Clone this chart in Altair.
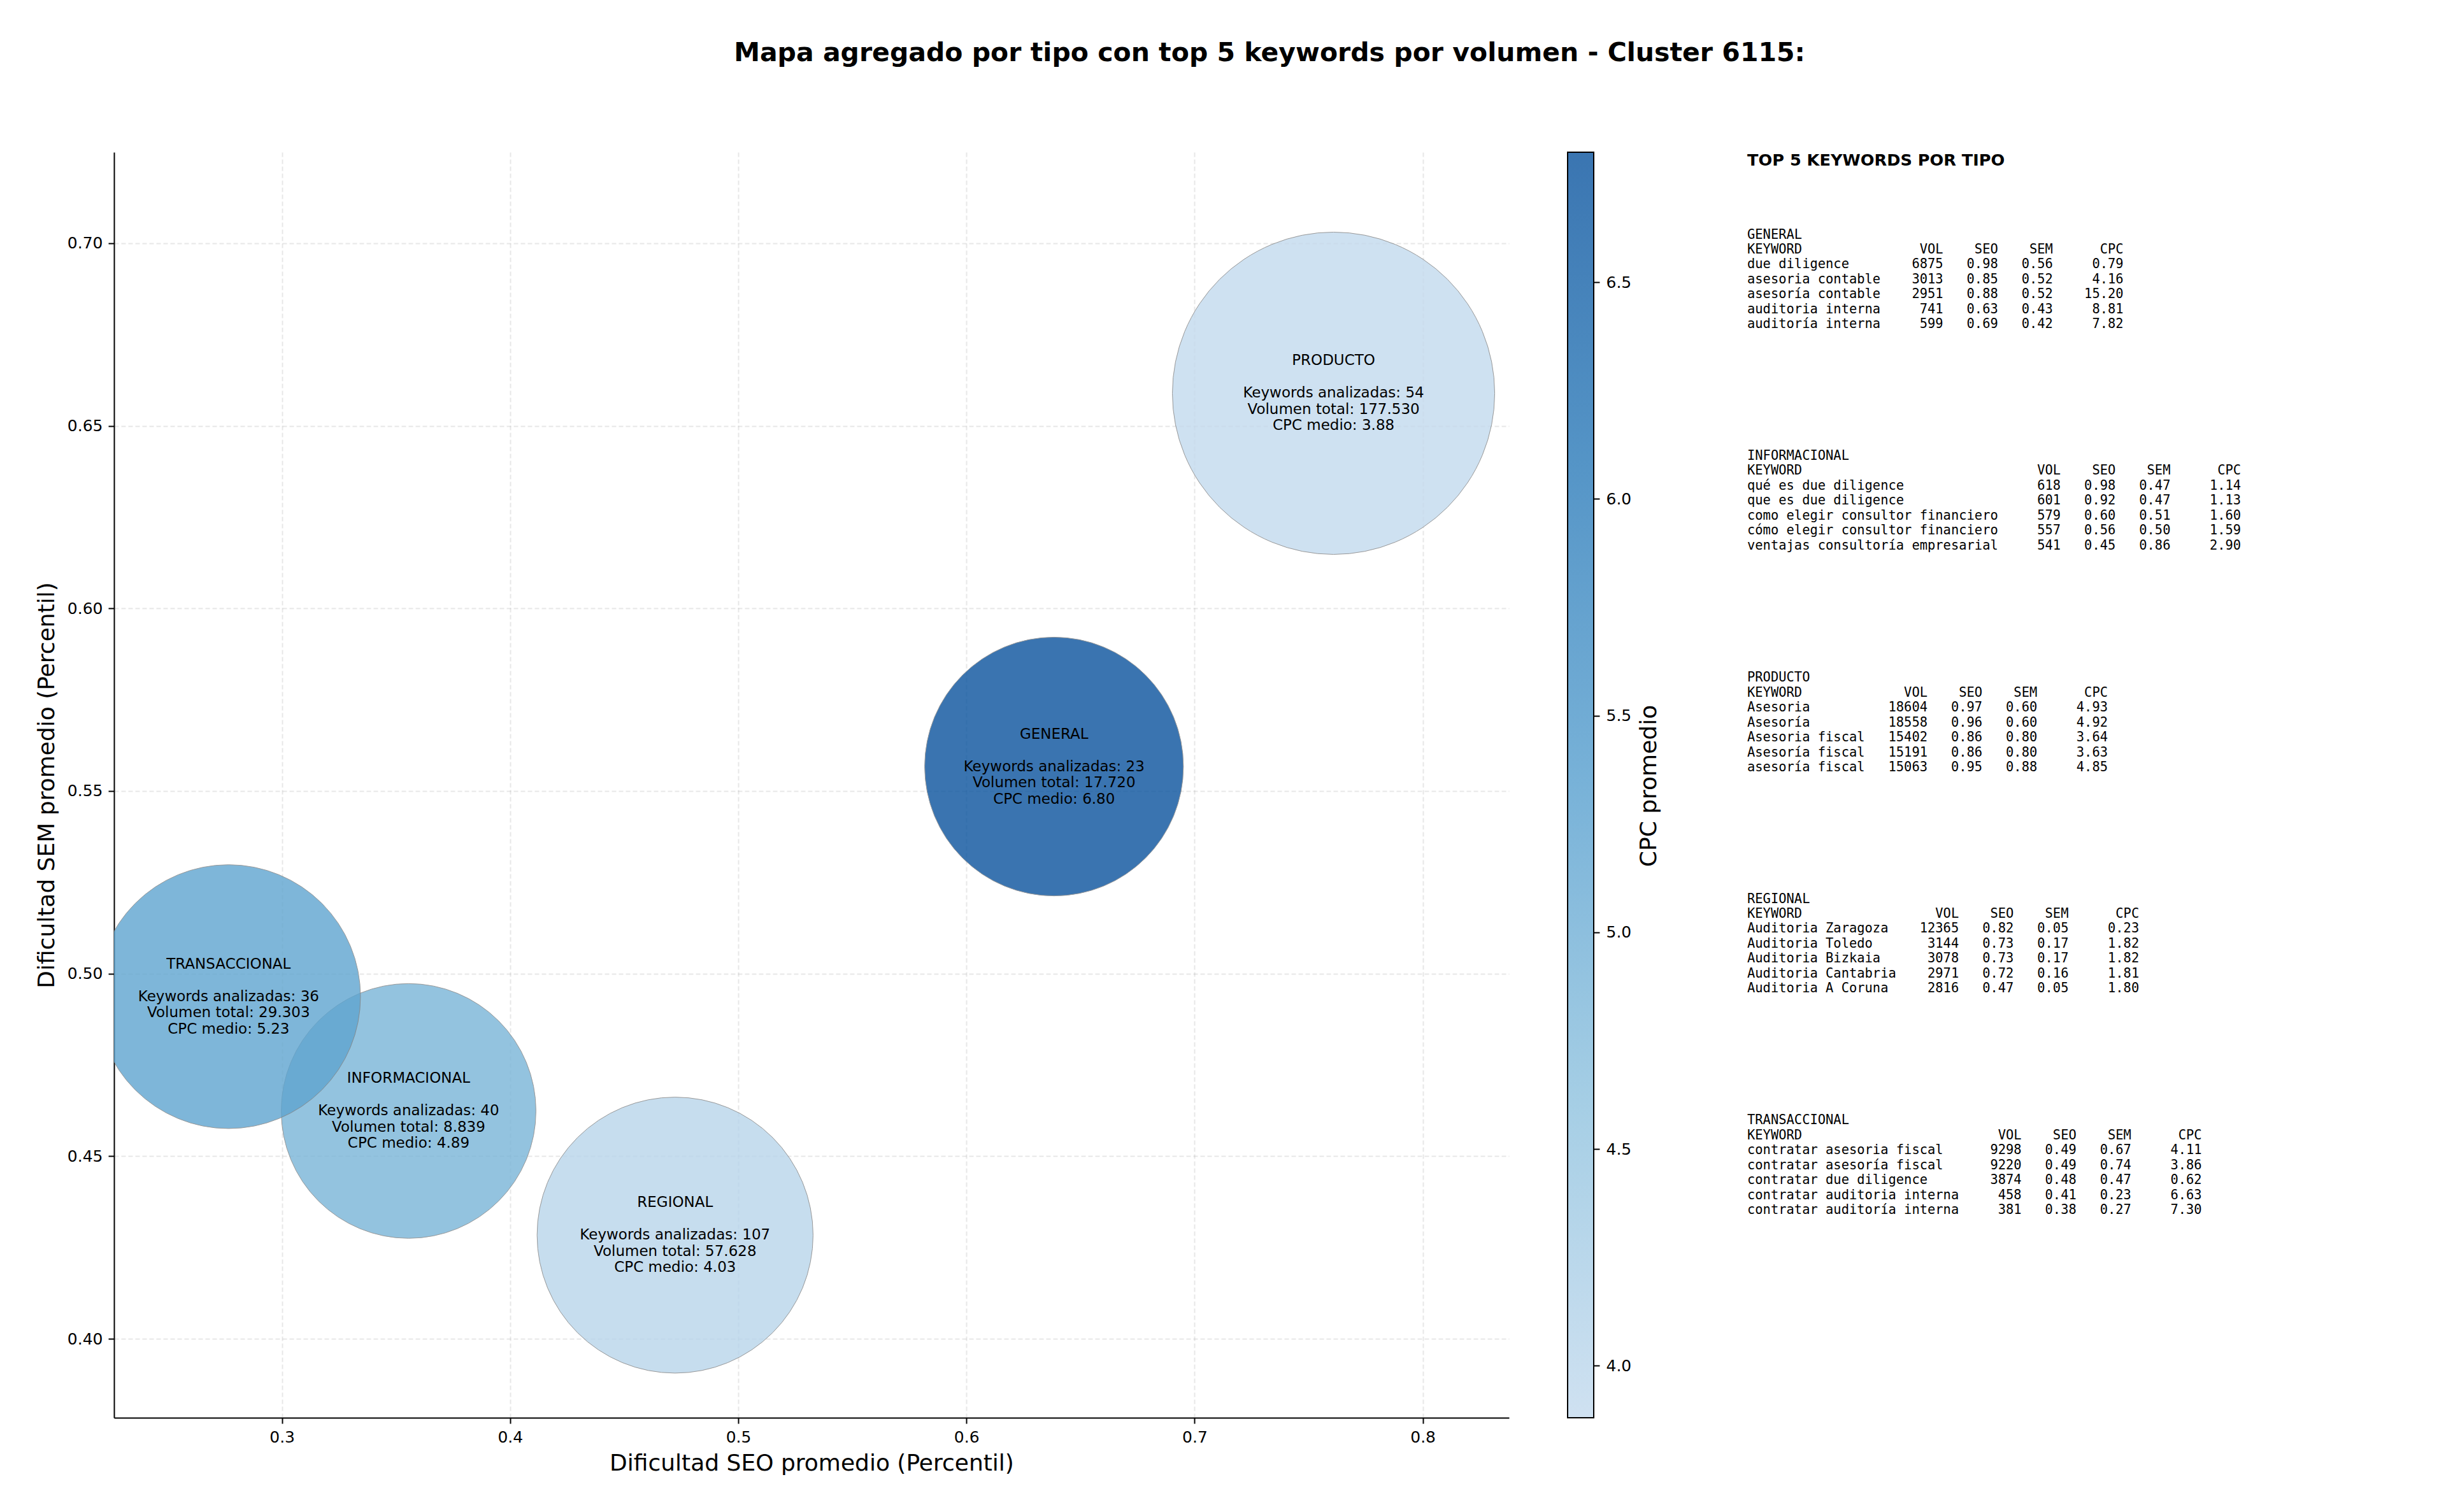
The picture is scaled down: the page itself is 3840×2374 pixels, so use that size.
import altair as alt
import pandas as pd

# ---------------- data ----------------
tipos = ["GENERAL", "INFORMACIONAL", "PRODUCTO", "REGIONAL", "TRANSACCIONAL"]
seo_medio = [0.6384, 0.3555, 0.7609, 0.4723, 0.2766]
sem_medio = [0.5567, 0.4624, 0.6589, 0.4284, 0.4937]
keywords_analizadas = [23, 40, 54, 107, 36]
volumen_total = [17720, 8839, 177530, 57628, 29303]
cpc_medio = [6.80, 4.89, 3.88, 4.03, 5.23]

kw_general = ["due diligence", "asesoria contable", "asesoría contable", "auditoria interna", "auditoría interna"]
vol_general = [6875, 3013, 2951, 741, 599]
seo_general = [0.98, 0.85, 0.88, 0.63, 0.69]
sem_general = [0.56, 0.52, 0.52, 0.43, 0.42]
cpc_general = [0.79, 4.16, 15.20, 8.81, 7.82]

kw_info = ["qué es due diligence", "que es due diligence", "como elegir consultor financiero",
           "cómo elegir consultor financiero", "ventajas consultoría empresarial"]
vol_info = [618, 601, 579, 557, 541]
seo_info = [0.98, 0.92, 0.60, 0.56, 0.45]
sem_info = [0.47, 0.47, 0.51, 0.50, 0.86]
cpc_info = [1.14, 1.13, 1.60, 1.59, 2.90]

kw_prod = ["Asesoria", "Asesoría", "Asesoria fiscal", "Asesoría fiscal", "asesoría fiscal"]
vol_prod = [18604, 18558, 15402, 15191, 15063]
seo_prod = [0.97, 0.96, 0.86, 0.86, 0.95]
sem_prod = [0.60, 0.60, 0.80, 0.80, 0.88]
cpc_prod = [4.93, 4.92, 3.64, 3.63, 4.85]

kw_reg = ["Auditoria Zaragoza", "Auditoria Toledo", "Auditoria Bizkaia", "Auditoria Cantabria", "Auditoria A Coruna"]
vol_reg = [12365, 3144, 3078, 2971, 2816]
seo_reg = [0.82, 0.73, 0.73, 0.72, 0.47]
sem_reg = [0.05, 0.17, 0.17, 0.16, 0.05]
cpc_reg = [0.23, 1.82, 1.82, 1.81, 1.80]

kw_trans = ["contratar asesoria fiscal", "contratar asesoría fiscal", "contratar due diligence",
            "contratar auditoria interna", "contratar auditoría interna"]
vol_trans = [9298, 9220, 3874, 458, 381]
seo_trans = [0.49, 0.49, 0.48, 0.41, 0.38]
sem_trans = [0.67, 0.74, 0.47, 0.23, 0.27]
cpc_trans = [4.11, 3.86, 0.62, 6.63, 7.30]

titulo = "Mapa agregado por tipo con top 5 keywords por volumen - Cluster 6115:"

# ---------------- build tables ----------------
NB = "\u00a0"

def vol_es(v):
    return f"{v:,}".replace(",", ".")

df = pd.DataFrame({
    "tipo": tipos, "seo": seo_medio, "sem": sem_medio,
    "n": keywords_analizadas, "vol": volumen_total, "cpc": cpc_medio,
})
df["stats"] = [
    f"Keywords analizadas: {n}\nVolumen total: {vol_es(v)}\nCPC medio: {c:.2f}"
    for n, v, c in zip(keywords_analizadas, volumen_total, cpc_medio)
]

def block(name, kws, vols, seos, sems, cpcs):
    L = max(len(k) for k in kws)
    lines = [name, f"{'KEYWORD':<{L}}{'VOL':>8}{'SEO':>7}{'SEM':>7}{'CPC':>9}"]
    for k, v, s, m, c in zip(kws, vols, seos, sems, cpcs):
        lines.append(f"{k:<{L}}{v:>8}{s:>7.2f}{m:>7.2f}{c:>9.2f}")
    return [ln.replace(" ", NB) for ln in lines]

blocks = [
    block("GENERAL", kw_general, vol_general, seo_general, sem_general, cpc_general),
    block("INFORMACIONAL", kw_info, vol_info, seo_info, sem_info, cpc_info),
    block("PRODUCTO", kw_prod, vol_prod, seo_prod, sem_prod, cpc_prod),
    block("REGIONAL", kw_reg, vol_reg, seo_reg, sem_reg, cpc_reg),
    block("TRANSACCIONAL", kw_trans, vol_trans, seo_trans, sem_trans, cpc_trans),
]

# ---------------- layout / style ----------------
W, H = 2190, 1987
FONT = "DejaVu Sans"
LH = 25.5
x_dom = [0.2264, 0.8378]
y_dom = [0.3784, 0.7249]
cmin, cmax = min(cpc_medio), max(cpc_medio)
c_dom = [cmin + (cmax - cmin) * i / 4 for i in range(5)]
true_colors = ["#c3daee", "#8fc2de", "#56a0ce", "#2a7ab9", "#09529d"]
shown_colors = ["#cfe1f1", "#a5cee5", "#78b2d8", "#5595c7", "#3a75b1"]

axis_common = dict(
    labelFont=FONT, labelFontSize=25, labelColor="black", labelPadding=9,
    tickSize=9, tickWidth=2, tickColor="black",
    domainColor="black", domainWidth=2,
    titleFont=FONT, titleFontSize=36, titleFontWeight="normal", titleColor="black",
    grid=True, gridColor="#b0b0b0", gridOpacity=0.3, gridDash=[7, 4], gridWidth=2,
    labelFlush=False, labelOverlap=False,
)

x_enc = alt.X("seo:Q", scale=alt.Scale(domain=x_dom, nice=False, zero=False),
              axis=alt.Axis(values=[0.3, 0.4, 0.5, 0.6, 0.7, 0.8], format=".1f",
                            title="Dificultad SEO promedio (Percentil)", titlePadding=11,
                            **axis_common))
y_enc = alt.Y("sem:Q", scale=alt.Scale(domain=y_dom, nice=False, zero=False),
              axis=alt.Axis(values=[0.40, 0.45, 0.50, 0.55, 0.60, 0.65, 0.70], format=".2f",
                            title="Dificultad SEM promedio (Percentil)", titlePadding=13,
                            **axis_common))

bubbles = alt.Chart(df).mark_circle(
    opacity=0.8, stroke="#808080", strokeWidth=1, clip=True
).encode(
    x=x_enc, y=y_enc,
    size=alt.Size("vol:Q", scale=alt.Scale(domain=[0, max(volumen_total)], range=[154900, 256040]),
                  legend=None),
    color=alt.Color("cpc:Q", scale=alt.Scale(domain=c_dom, range=true_colors, interpolate="rgb"),
                    legend=None),
)

names = alt.Chart(df).mark_text(
    font=FONT, fontSize=23, align="center", baseline="middle", color="black", dy=-2 * LH
).encode(x=x_enc, y=y_enc, text="tipo:N")

stats = alt.Chart(df).mark_text(
    font=FONT, fontSize=23, lineBreak="\n", lineHeight=LH,
    align="center", baseline="middle", color="black"
).encode(x=x_enc, y=y_enc, text="stats:N")

main = alt.layer(bubbles, names, stats)

cb_df = pd.DataFrame({"lo": [cmin], "hi": [cmax]})
colorbar = alt.Chart(cb_df).mark_rect(
    fill=alt.Gradient(
        gradient="linear", x1=0, y1=1, x2=0, y2=0,
        stops=[alt.GradientStop(offset=i / 4, color=c) for i, c in enumerate(shown_colors)],
    ),
    stroke="black", strokeWidth=2,
).encode(
    x=alt.value(2282), x2=alt.value(2323),
    y=alt.Y("lo:Q", scale=alt.Scale(domain=[cmin, cmax], nice=False, zero=False),
            axis=alt.Axis(orient="right", offset=133, values=[4.0, 4.5, 5.0, 5.5, 6.0, 6.5],
                          format=".1f", domain=False, grid=False, title=None,
                          tickSize=9, tickWidth=2, tickColor="black",
                          labelFont=FONT, labelFontSize=25, labelColor="black",
                          labelPadding=10, labelFlush=False, labelOverlap=False)),
    y2="hi:Q",
)

one = pd.DataFrame({"k": [0]})

def text_layer(text, x, y, **kw):
    return alt.Chart(one).mark_text(**kw).encode(
        x=alt.value(x), y=alt.value(y), text=alt.value(text))

title_t = text_layer(titulo, 1814, -154.6, font=FONT, fontSize=41, fontWeight="bold",
                     align="center", baseline="middle", color="black")
top5_t = text_layer("TOP 5 KEYWORDS POR TIPO", 2564, 0.5, font=FONT, fontSize=25.6,
                    fontWeight="bold", align="left", baseline="top", color="black")
cb_title = text_layer("CPC promedio", 2410, 995, font=FONT, fontSize=36, angle=270,
                      align="center", baseline="middle", color="black")

block_y = [119.6, 466.9, 815.3, 1162.6, 1510.3]
block_layers = [
    text_layer(b, 2564, yy, font="DejaVu Sans Mono", fontSize=20.46, lineHeight=23.45,
               align="left", baseline="top", color="black")
    for b, yy in zip(blocks, block_y)
]

chart = alt.layer(
    main, colorbar, title_t, top5_t, cb_title, *block_layers
).resolve_scale(
    y="independent"
).properties(
    width=W, height=H,
    autosize=alt.AutoSizeParams(type="none"),
    padding={"left": 171, "top": 231, "right": 1463, "bottom": 140},
    background="white",
).configure_view(stroke=None)

chart.save("out.html", embed_options={"renderer": "svg", "actions": False})
